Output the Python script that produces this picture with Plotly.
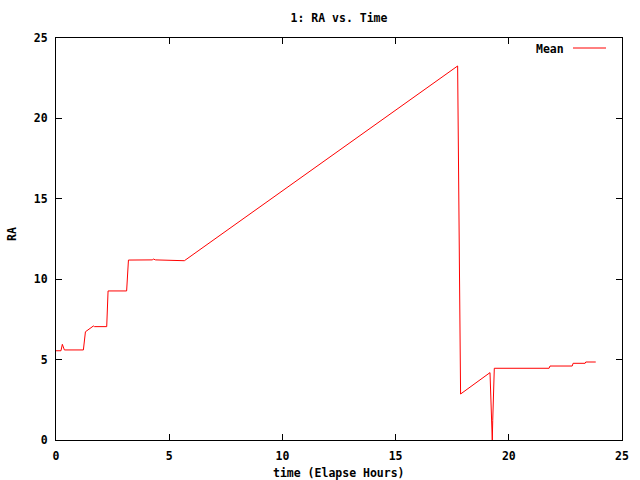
import plotly.graph_objects as go

time_hours = [0.0, 0.22, 0.28, 0.37, 1.21, 1.25, 1.30, 1.65, 1.70, 2.24, 2.27, 2.30,
              3.12, 3.16, 3.20, 4.25, 4.30, 4.40, 5.67, 17.74, 17.77, 17.81, 17.87,
              19.17, 19.19, 19.23, 19.27, 19.29, 19.32, 19.36, 21.78, 21.82, 22.80,
              22.84, 23.37, 23.40, 23.84]
ra_mean = [5.55, 5.55, 5.95, 5.6, 5.6, 6.2, 6.73, 7.09, 7.05, 7.05, 8.3, 9.27,
           9.27, 10.5, 11.19, 11.2, 11.25, 11.2, 11.15, 23.26, 18.2, 8.0, 2.86,
           4.19, 3.15, 1.2, 0.0, 1.2, 3.3, 4.46, 4.46, 4.6, 4.6,
           4.77, 4.77, 4.85, 4.85]

x_ticks = [0, 5, 10, 15, 20, 25]
y_ticks = [0, 5, 10, 15, 20, 25]

FONT = dict(family="DejaVu Sans Mono", size=11.5, color="black", weight="bold")

# plot area in pixels
L, R, T, B = 56, 622, 38, 440
W, H = R - L, B - T

fig = go.Figure()
fig.add_trace(go.Scatter(x=time_hours, y=ra_mean, mode="lines", name="Mean",
                         line=dict(color="#ff0000", width=1), showlegend=False))

axis_common = dict(showgrid=False, zeroline=False, showline=True, linecolor="black",
                   linewidth=1, mirror="ticks", ticks="inside", ticklen=6,
                   tickcolor="black", tickfont=FONT, automargin=False)

fig.update_layout(
    width=640, height=480, autosize=False,
    paper_bgcolor="white", plot_bgcolor="white",
    margin=dict(l=L, r=640 - R, t=T, b=480 - B, pad=0, autoexpand=False),
    font=FONT,
    title=dict(text="1: RA vs. Time", xref="paper", x=0.5, xanchor="center",
               yref="container", y=1 - 18/480, yanchor="middle", font=FONT,
               automargin=False),
    xaxis=dict(range=[0, 25], tickvals=x_ticks, ticktext=[str(v) for v in x_ticks],
               ticklabelstandoff=5, **axis_common),
    yaxis=dict(range=[0, 25], tickvals=y_ticks, ticktext=[str(v) for v in y_ticks],
               ticklabelstandoff=5, **axis_common),
    showlegend=False,
)

# axis titles
fig.add_annotation(text="time (Elapse Hours)", xref="paper", yref="paper",
                   x=0.5, y=-(473 - B)/H, xanchor="center", yanchor="middle",
                   showarrow=False, font=FONT)
fig.add_annotation(text="RA", xref="paper", yref="paper", textangle=-90,
                   x=-(L - 12)/W, y=1 - (234 - T)/H, xanchor="center", yanchor="middle",
                   showarrow=False, font=FONT)

# legend (gnuplot style: text then sample line)
fig.add_annotation(text="Mean", xref="paper", yref="paper", x=(566 - L)/W, y=1 - (48.5 - T)/H,
                   xanchor="right", yanchor="middle", showarrow=False, font=FONT)
fig.add_shape(type="line", xref="paper", yref="paper",
              x0=(573 - L)/W, x1=(606 - L)/W, y0=1 - (48 - T)/H, y1=1 - (48 - T)/H,
              line=dict(color="#ff0000", width=1))

fig.write_html("out.html", config={"displayModeBar": False},
               post_script="document.body.style.margin='0';")
